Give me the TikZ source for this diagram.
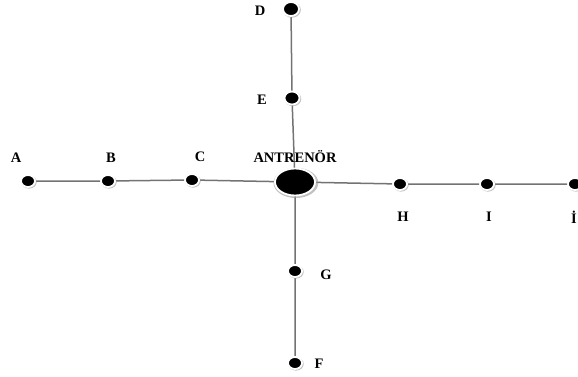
\documentclass[tikz,border=0pt]{standalone}
\usepackage{fontspec}
\setmainfont{Liberation Serif}
\usetikzlibrary{shapes.geometric,shadows,backgrounds}
\tikzset{
  x=1pt, y=1pt,
  dot/.style={ellipse, fill=black, inner sep=0pt, minimum width=14pt, minimum height=12pt,
    draw=white, line width=1.8pt,
    drop shadow={shadow xshift=0.8pt, shadow yshift=-0.8pt, shadow scale=1.12,
      fill=black!40, opacity=0.6}},
  bigdot/.style={dot, minimum width=40pt, minimum height=27pt},
  lbl/.style={font=\fontsize{14.5}{16}\selectfont\bfseries, inner sep=0pt},
  link/.style={draw=black!55, line width=1.5pt}
}
\begin{document}
\begin{tikzpicture}
\useasboundingbox (0,0) rectangle (578,376);
% nodes of the network (y measured upward)
\node[bigdot] (t) at (295,194) {};
\node[dot] (a) at (28,195) {};
\node[dot] (b) at (108,195) {};
\node[dot] (c) at (192,196) {};
\node[dot] (h) at (400,192) {};
\node[dot] (i) at (487,192) {};
\node[dot] (j) at (575,192) {};
\node[dot, minimum width=16pt, minimum height=14pt] (d) at (291,367) {};
\node[dot, minimum width=15pt, minimum height=13pt] (e) at (292,278) {};
\node[dot] (g) at (295,105) {};
\node[dot] (f) at (295,13) {};
% labels
\node[lbl] (la) at (16,218) {A};
\node[lbl] (lb) at (111,218) {B};
\node[lbl] (lc) at (200,219) {C};
\node[lbl] (lt) at (295,219) {ANTRENÖR};
\node[lbl] (ld) at (260,365) {D};
\node[lbl] (le) at (262,276) {E};
\node[lbl] (lg) at (326,101) {G};
\node[lbl] (lf) at (319,12) {F};
\node[lbl] (lh) at (403,159) {H};
\node[lbl] (li) at (489,159) {I};
\node[lbl] (lj) at (574,159) {İ};
% connectors behind the dots
\begin{scope}[on background layer]
  \path[link] (a.center) -- (b.center) -- (c.center) -- (t.center)
    -- (h.center) -- (i.center) -- (j.center);
  \path[link] (d.center) -- (e.center) -- (t.center) -- (g.center) -- (f.center);
\end{scope}
\end{tikzpicture}
\end{document}
